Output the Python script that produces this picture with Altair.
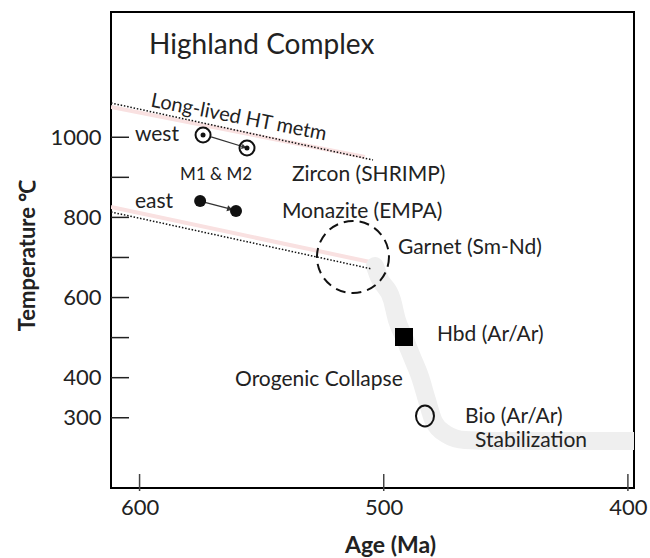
import altair as alt
import pandas as pd

# ---------------- data ----------------
x_tick_values = [600, 500, 400]
y_tick_values = [300, 400, 500, 600, 700, 800, 900, 1000]
y_label_values = [300, 400, 600, 800, 1000]

# long-lived HT metamorphism trends (dotted) and pink bands
upper_dot_age = [611.7, 504.4]
upper_dot_temp = [1085.5, 943.3]
upper_pink_age = [611.7, 507.7]
upper_pink_temp = [1075.5, 950.7]
lower_dot_age = [611.7, 504.8]
lower_dot_temp = [813.5, 671.2]
lower_pink_age = [611.7, 505.6]
lower_pink_temp = [826.0, 688.7]

# orogenic collapse cooling path (grey band)
collapse_age = [503.6, 502.0, 496.6, 494.6, 491.7, 488.4, 485.1, 482.3, 479.4, 474.5, 466.7, 452.4, 397.5]
collapse_temp = [678.7, 651.3, 593.9, 544.0, 501.5, 451.6, 401.7, 344.3, 289.4, 259.4, 244.5, 242.0, 242.0]

# M1 & M2 points
west_age = [574.0, 556.0]
west_temp = [1005.6, 973.2]
east_age = [575.2, 560.5]
east_temp = [840.9, 816.0]
west_arrow = {"a1": 570.7, "t1": 1000.7, "a2": 557.2, "t2": 975.7}
east_arrow = {"a1": 575.2, "t1": 840.9, "a2": 563.0, "t2": 821.0}

# other markers
garnet_age, garnet_temp = [512.6], [701.2]
hbd_age, hbd_temp = [491.7], [501.5]
bio_age, bio_temp = [483.1], [304.4]

# labels
label_text = ["west", "east", "Zircon (SHRIMP)", "Monazite (EMPA)", "Garnet (Sm-Nd)",
              "Hbd (Ar/Ar)", "Orogenic Collapse", "Bio (Ar/Ar)", "Stabilization"]
label_age = [601.9, 601.9, 537.6, 541.7, 494.2, 478.2, 560.9, 466.7, 462.6]
label_temp = [1005.6, 838.4, 905.8, 813.5, 723.6, 506.5, 394.2, 301.0, 243.0]
title_text, title_age, title_temp = ["Highland Complex"], [596.1], [1227.7]
m_text, m_age, m_temp = ["M1 & M2"], [583.4], [905.8]
ht_text, ht_age, ht_temp = ["Long-lived HT metm"], [595.7], [1077.0]

# ---------------- chart ----------------
W, H = 523, 476
FONT = "Lato"
xs = alt.Scale(domain=[397.5, 611.7], reverse=True, nice=False, zero=False)
ys = alt.Scale(domain=[124.7, 1312.6], nice=False, zero=False)


def line_df(ages, temps, name):
    return pd.DataFrame({"age": ages, "temp": temps, "idx": list(range(len(ages))), "s": name})


X = alt.X("age:Q", scale=xs,
          axis=alt.Axis(values=x_tick_values, ticks=False, domain=False, grid=False,
                        labelFont=FONT, labelFontSize=22, labelColor="#222", labelPadding=9,
                        labelFlush=False, format="d",
                        title="Age (Ma)", titleFont=FONT, titleFontSize=23, titleFontWeight="bold",
                        titleColor="#222", titleX=279, titleY=57, titleBaseline="middle",
                        titleAlign="center"))
Y = alt.Y("temp:Q", scale=ys,
          axis=alt.Axis(values=y_label_values, ticks=False, domain=False, grid=False,
                        labelFont=FONT, labelFontSize=22, labelColor="#222", labelPadding=10,
                        format="d",
                        title="Temperature ℃", titleFont=FONT, titleFontSize=22,
                        titleFontWeight="bold", titleColor="#222", titleX=-84, titleY=243,
                        titleAngle=270, titleBaseline="middle", titleAlign="center"))

xp = alt.X("age:Q", scale=xs)
yp = alt.Y("temp:Q", scale=ys)

pink = alt.Chart(pd.concat([line_df(upper_pink_age, upper_pink_temp, "u"),
                            line_df(lower_pink_age, lower_pink_temp, "l")])).mark_line(
    color="#f9e1e1", strokeWidth=4, clip=True).encode(x=X, y=Y, detail="s:N", order="idx:Q")

band = alt.Chart(line_df(collapse_age, collapse_temp, "c")).mark_line(
    color="#efefef", strokeWidth=18, strokeCap="round", interpolate="monotone", clip=True
).encode(x=xp, y=yp, order="idx:Q")

dotted = alt.Chart(pd.concat([line_df(upper_dot_age, upper_dot_temp, "u"),
                              line_df(lower_dot_age, lower_dot_temp, "l")])).mark_line(
    color="#111", strokeWidth=1.5, strokeDash=[1.5, 1.8], clip=True).encode(
    x=xp, y=yp, detail="s:N", order="idx:Q")

garnet = alt.Chart(pd.DataFrame({"age": garnet_age, "temp": garnet_temp})).mark_point(
    shape="circle", size=5184, filled=False, stroke="#111", strokeWidth=2,
    strokeDash=[10, 6], opacity=1).encode(x=xp, y=yp)

arrows = alt.Chart(pd.DataFrame([west_arrow, east_arrow])).mark_rule(
    color="#333", strokeWidth=1.3).encode(
    x=alt.X("a1:Q", scale=xs), x2="a2:Q", y=alt.Y("t1:Q", scale=ys), y2="t2:Q")

west_head = alt.Chart(pd.DataFrame({"age": [west_arrow["a2"]], "temp": [west_arrow["t2"]]})).mark_point(
    shape="triangle-right", size=30, filled=True, color="#333", opacity=1, angle=16).encode(x=xp, y=yp)
east_head = alt.Chart(pd.DataFrame({"age": [east_arrow["a2"]], "temp": [east_arrow["t2"]]})).mark_point(
    shape="triangle-right", size=40, filled=True, color="#333", opacity=1, angle=15).encode(x=xp, y=yp)

west_df = pd.DataFrame({"age": west_age, "temp": west_temp})
west_ring = alt.Chart(west_df).mark_point(shape="circle", size=225, filled=False,
                                          stroke="#111", strokeWidth=2, opacity=1).encode(x=xp, y=yp)
west_dot = alt.Chart(west_df).mark_point(shape="circle", size=25, filled=True,
                                         color="#111", opacity=1).encode(x=xp, y=yp)
east_dot = alt.Chart(pd.DataFrame({"age": east_age, "temp": east_temp})).mark_point(
    shape="circle", size=144, filled=True, color="#111", opacity=1).encode(x=xp, y=yp)

hbd = alt.Chart(pd.DataFrame({"age": hbd_age, "temp": hbd_temp})).mark_point(
    shape="square", size=324, filled=True, color="#000", opacity=1).encode(x=xp, y=yp)

oval = "M0,-1 A0.857,1 0 1,1 0,1 A0.857,1 0 1,1 0,-1 Z"
bio = alt.Chart(pd.DataFrame({"age": bio_age, "temp": bio_temp})).mark_point(
    shape=oval, size=441, filled=False, stroke="#111", strokeWidth=2, opacity=1).encode(x=xp, y=yp)

y_ticks = alt.Chart(pd.DataFrame({"temp": y_tick_values})).mark_rule(
    color="#222", strokeWidth=1.5).encode(y=yp, x=alt.value(0), x2=alt.value(18))
x_ticks = alt.Chart(pd.DataFrame({"age": x_tick_values})).mark_rule(
    color="#444", strokeWidth=1.5).encode(x=xp, y=alt.value(H - 14), y2=alt.value(H + 3))

labels = alt.Chart(pd.DataFrame({"t": label_text, "age": label_age, "temp": label_temp})).mark_text(
    font=FONT, fontSize=21, color="#222", align="left", baseline="middle").encode(
    x=xp, y=yp, text="t:N")
title = alt.Chart(pd.DataFrame({"t": title_text, "age": title_age, "temp": title_temp})).mark_text(
    font=FONT, fontSize=28, color="#222", align="left", baseline="middle").encode(
    x=xp, y=yp, text="t:N")
mlab = alt.Chart(pd.DataFrame({"t": m_text, "age": m_age, "temp": m_temp})).mark_text(
    font=FONT, fontSize=17, color="#222", align="left", baseline="middle").encode(
    x=xp, y=yp, text="t:N")
htlab = alt.Chart(pd.DataFrame({"t": ht_text, "age": ht_age, "temp": ht_temp})).mark_text(
    font=FONT, fontSize=20, color="#222", align="left", baseline="alphabetic", angle=11).encode(
    x=xp, y=yp, text="t:N")

chart = alt.layer(
    pink, band, dotted, garnet, arrows, west_head, east_head, west_ring, west_dot, east_dot,
    hbd, bio, y_ticks, x_ticks, labels, title, mlab, htlab
).properties(
    width=W, height=H,
    autosize=alt.AutoSizeParams(type="none"),
    padding={"left": 111, "top": 12, "right": 16, "bottom": 70},
    background="white",
).configure_view(stroke="black", strokeWidth=2)

chart.save("out.html", embed_options={"renderer": "svg", "actions": False})
